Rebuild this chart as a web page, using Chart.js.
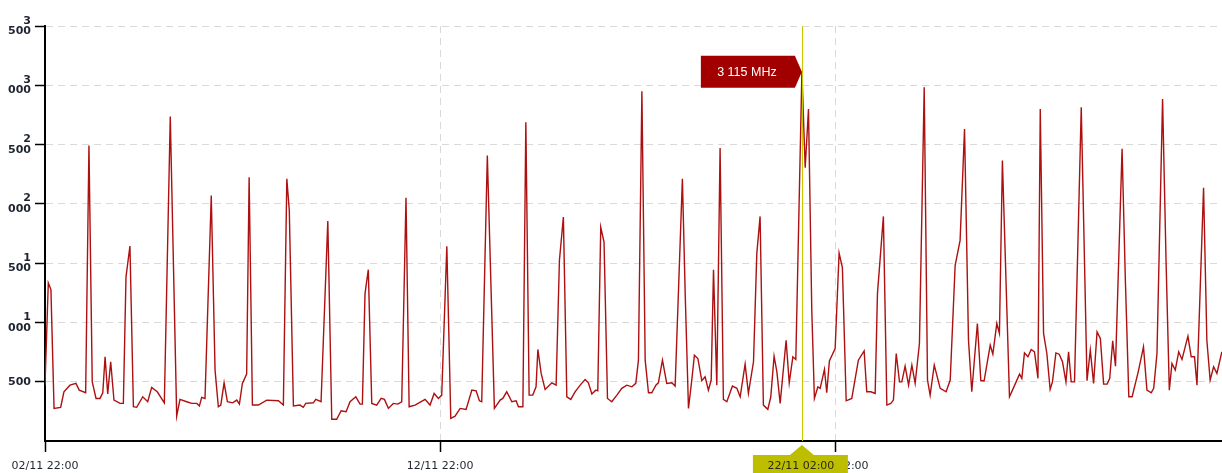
<!DOCTYPE html>
<html>
<head>
<meta charset="utf-8">
<script src="https://cdn.jsdelivr.net/npm/chart.js@4.4.0/dist/chart.umd.min.js"></script>
<style>
  html, body { margin: 0; padding: 0; background: #fff; }
  #wrap { width: 1222px; height: 473px; }
</style>
</head>
<body>
<div id="wrap"><canvas id="freq-chart" width="1222" height="473"></canvas></div>
<script>
// hours since 02/11 22:00
const hours = [
  0, 2.0, 3.6, 5.5, 9.5, 11.5, 15.2, 18.8, 20.8, 24.7, 26.7, 28.7, 31.0, 33.4, 35.1, 36.5, 38.1, 39.9, 41.9, 45.6,
  47.6, 49.2, 51.6, 53.7, 55.7, 59.4, 62.4, 64.8, 68.2, 72.5, 76.1, 80.0, 82.0, 86.1, 89.1, 92.2, 93.8, 95.2, 97.2, 101.0,
  103.3, 105.3, 106.8, 108.8, 110.8, 114.0, 116.5, 118.1,
  119.9, 122.5, 124.0, 126.0, 129.6, 134.7, 141.8, 144.8, 146.9, 148.4, 150.9, 154.9, 156.9, 158.4, 163.0, 164.5, 167.7, 171.8, 174.2, 177.2,
  179.9, 182.9, 185.3, 188.8, 191.4, 192.8, 194.4, 196.4, 198.5, 201.5, 204.2, 206.2, 208.6, 211.6, 214.3, 216.7, 219.3, 221.2, 224.8, 230.9, 233.9,
  236.4, 239.0, 241.0, 244.1, 246.5, 249.1, 252.2, 255.8, 259.3, 261.9, 263.9, 265.3, 268.7, 273.0, 276.5, 278.1, 280.5, 283.6, 286.2, 287.6,
  290.3, 292.1, 294.1, 296.3, 298.3, 299.4, 301.4, 303.8, 307.9, 310.5, 312.5, 314.9, 317.0, 319.4, 322.0, 325.1, 328.1, 330.1, 332.2, 334.6,
  335.8, 337.6, 339.6, 341.7, 344.3, 347.4, 350.4, 353.4,
  356.5, 358.9, 360.5, 362.6, 364.6, 366.6, 368.6, 371.1, 372.6, 375.1, 377.7, 380.8, 382.8, 387.2, 388.9, 390.9, 392.9, 394.5, 396.6, 399.0,
  401.0, 403.0, 404.7, 406.1, 408.1, 410.1, 412.1, 414.2, 417.6, 420.3, 422.3, 425.3, 427.3, 430.4, 432.4, 434.4, 436.4, 439.1, 440.9, 442.9,
  444.6, 446.6, 450.2, 452.1, 454.3, 456.1, 459.8, 461.8, 463.8, 465.8, 467.4, 469.5, 470.9, 473.5,
  474.9, 476.5, 480.0, 482.4, 484.4, 486.7, 490.1, 494.1, 497.6, 499.2, 501.7, 504.3, 505.7, 509.3, 511.4, 513.8, 515.4, 517.1, 519.1, 520.5,
  522.5, 524.6, 526.6, 528.6, 531.2, 534.1, 536.1, 537.7, 540.2, 543.8, 547.4, 549.9, 552.9, 555.9, 558.6, 561.0, 563.0, 566.4, 568.5, 570.5,
  574.2, 575.8, 578.2, 579.8, 581.6, 585.9, 588.8, 592.0,
  593.4, 595.0, 597.1, 599.1, 601.1, 603.2, 604.6, 606.6, 608.6, 610.6, 612.0, 614.1, 616.1, 618.1, 620.2, 621.8, 623.4, 625.4, 629.5, 633.0,
  635.0, 637.0, 639.1, 641.1, 643.1, 645.2, 646.8, 648.6, 650.3, 654.3, 656.3, 658.4, 660.4, 664.1, 667.3, 669.4, 672.0, 673.5, 675.5, 678.9,
  681.0, 683.0, 684.6, 686.6, 688.7, 690.7, 694.3, 696.3, 698.3, 699.8, 703.8, 705.8, 707.8, 709.9, 711.9, 714.9
];

const mhz = [
  470, 1333, 1277, 275, 284, 415, 471, 486, 429, 407, 2492, 499, 359, 359, 407, 710, 396, 668, 345, 317,
  317, 1383, 1644, 289, 284, 373, 331, 452, 415, 322, 2736, 210, 351, 331, 317, 317, 295, 368, 359, 2071,
  598, 289, 303, 491, 331, 322, 345, 311,
  486, 564, 2225, 303, 303, 345, 339, 303, 2211, 1945, 295, 303, 284, 317, 322, 351, 331, 1855, 183, 183,
  255, 247, 331, 373, 311, 311, 1243, 1445, 317, 303, 359, 351, 275, 317, 311, 331, 2051, 289, 303, 351, 303,
  401, 359, 387, 1642, 191, 210, 275, 267, 429, 423, 339, 331, 2407, 275, 345, 359, 415, 331, 339, 289,
  289, 2688, 387, 387, 457, 772, 570, 435, 491, 471, 1524, 1888, 373, 351, 415, 471, 519, 491, 396, 429,
  423, 1804, 1678, 359, 331, 387, 444, 471,
  457, 486, 682, 2949, 682, 407, 407, 471, 491, 682, 486, 491, 463, 2211, 1243, 275, 514, 724, 696, 508,
  541, 429, 514, 1445, 471, 2472, 351, 331, 463, 444, 373, 648, 401, 668, 1580, 1894, 303, 267, 373, 716,
  583, 317, 850, 491, 710, 688, 3115, 2304, 2800, 1103, 359, 457, 444, 604,
  407, 676, 780, 1585, 1462, 339, 359, 682, 760, 415, 415, 401, 1243, 1894, 303, 317, 345, 738, 499, 499,
  631, 471, 640, 486, 822, 2983, 514, 387, 640, 444, 415, 514, 1482, 1692, 2632, 850, 415, 991, 508, 508,
  808, 732, 991, 907, 2365, 373, 463, 564,
  528, 743, 710, 772, 752, 528, 2800, 907, 738, 435, 499, 743, 732, 668, 499, 752, 499, 499, 2814, 508,
  766, 486, 920, 865, 480, 480, 528, 844, 631, 2464, 1355, 373, 373, 583, 794, 429, 407, 444, 738, 2885,
  1524, 429, 654, 598, 752, 688, 884, 710, 710, 471, 2136, 850, 514, 626, 570, 752
];

const xTickHours = [0, 240, 480];
const yMax = 3500;
const yStep = 500;
const hoverValue = 3115; // point under the crosshair
const startDate = new Date(2023, 10, 2, 22, 0);

function pad(n) { return n < 10 ? '0' + n : '' + n; }

function hourLabel(h) {
  const d = new Date(startDate.getTime() + Math.round(h) * 3600000);
  return pad(d.getDate()) + '/' + pad(d.getMonth() + 1) + ' ' + pad(d.getHours()) + ':' + pad(d.getMinutes());
}

function splitThousands(v) {
  if (v < 1000) return '' + v;
  const th = Math.floor(v / 1000);
  const rest = v % 1000;
  return [String(th), String(rest).padStart(3, '0')];
}

const points = hours.map(function (h, i) { return { x: h, y: mhz[i] }; });
const hoverIndex = mhz.indexOf(hoverValue);

const crosshair = {
  id: 'crosshair',
  afterDraw(chart) {
    const ctx = chart.ctx;
    const xs = chart.scales.x, ys = chart.scales.y;
    const area = chart.chartArea;
    const px = xs.getPixelForValue(hours[hoverIndex]);
    const py = ys.getPixelForValue(mhz[hoverIndex]);

    ctx.save();
    // vertical line
    ctx.strokeStyle = '#c8c800';
    ctx.lineWidth = 1;
    ctx.beginPath();
    ctx.moveTo(Math.round(px) + 0.5, area.top);
    ctx.lineTo(Math.round(px) + 0.5, area.bottom);
    ctx.stroke();

    // value flag
    ctx.fillStyle = '#a20000';
    ctx.beginPath();
    ctx.moveTo(px - 101, py - 16);
    ctx.lineTo(px - 7, py - 16);
    ctx.lineTo(px, py);
    ctx.lineTo(px - 7, py + 16);
    ctx.lineTo(px - 101, py + 16);
    ctx.closePath();
    ctx.fill();
    ctx.fillStyle = '#ffffff';
    ctx.font = '12.5px "Liberation Sans", Arial, sans-serif';
    ctx.textAlign = 'center';
    ctx.textBaseline = 'middle';
    ctx.fillText('3 115 MHz', px - 55, py + 0.5);

    // date flag under the axis
    const by = area.bottom + 14;
    ctx.fillStyle = '#bebe00';
    ctx.beginPath();
    ctx.moveTo(px, area.bottom + 4);
    ctx.lineTo(px + 12, by);
    ctx.lineTo(px + 46, by);
    ctx.lineTo(px + 46, chart.height);
    ctx.lineTo(px - 49, chart.height);
    ctx.lineTo(px - 49, by);
    ctx.lineTo(px - 12, by);
    ctx.closePath();
    ctx.fill();
    ctx.fillStyle = '#2a2a10';
    ctx.font = '11px "DejaVu Sans", sans-serif';
    ctx.fillText(hourLabel(hours[hoverIndex]), px - 1, by + 11);
    ctx.restore();
  }
};

new Chart(document.getElementById('freq-chart').getContext('2d'), {
  type: 'line',
  data: {
    datasets: [{
      label: 'MHz',
      data: points,
      borderColor: '#ad1010',
      borderWidth: 1.4,
      pointRadius: 0,
      tension: 0,
      fill: false
    }]
  },
  options: {
    responsive: false,
    animation: false,
    devicePixelRatio: 1,
    layout: { padding: { top: 26, right: 0, left: 0, bottom: 0 } },
    plugins: { legend: { display: false }, tooltip: { enabled: false } },
    scales: {
      x: {
        type: 'linear',
        min: 0,
        max: 715,
        afterBuildTicks(scale) { scale.ticks = xTickHours.map(function (v) { return { value: v }; }); },
        afterFit(scale) { scale.height = 32; },
        ticks: {
          autoSkip: false,
          maxRotation: 0,
          padding: 8,
          color: '#1e2430',
          font: { family: '"DejaVu Sans", sans-serif', size: 11 },
          callback: function (v) { return hourLabel(v); }
        },
        grid: {
          color: function (c) { return c.tick && c.tick.value === 0 ? 'transparent' : '#d9d9d9'; },
          lineWidth: 1,
          tickLength: 11,
          tickColor: '#000',
          tickWidth: 1.5,
          tickBorderDash: []
        },
        border: { color: '#000', width: 2, dash: [7, 5] }
      },
      y: {
        min: 0,
        max: yMax,
        afterBuildTicks(scale) {
          const t = [];
          for (let v = 0; v <= yMax; v += yStep) t.push({ value: v });
          scale.ticks = t;
        },
        afterFit(scale) { scale.width = 45; },
        ticks: {
          padding: 4,
          color: '#1e2430',
          font: { family: '"DejaVu Sans", sans-serif', size: 11, weight: 'bold', lineHeight: 0.95 },
          callback: function (v) { return v === 0 ? '' : splitThousands(v); }
        },
        grid: {
          color: function (c) { return c.tick && c.tick.value === 0 ? 'transparent' : '#d9d9d9'; },
          lineWidth: 1,
          tickLength: 10,
          tickColor: function (c) { return c.tick && c.tick.value === 0 ? 'transparent' : '#000'; },
          tickWidth: 1.5,
          tickBorderDash: []
        },
        border: { color: '#000', width: 2, dash: [7, 5] }
      }
    }
  },
  plugins: [crosshair]
});
</script>
</body>
</html>
